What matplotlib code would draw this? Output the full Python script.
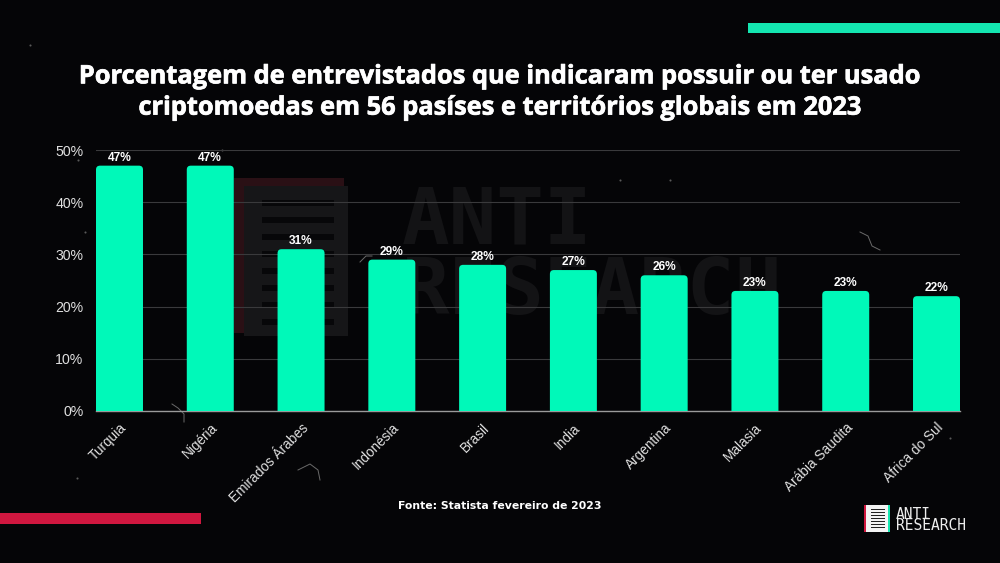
import matplotlib
matplotlib.use("Agg")
import matplotlib.pyplot as plt
import matplotlib.patheffects as pe
from matplotlib.patches import FancyBboxPatch, Rectangle
from matplotlib.transforms import ScaledTranslation

countries = ["Turquia", "Nigéria", "Emirados Árabes", "Indonésia", "Brasil", "India",
             "Argentina", "Malasia", "Arábia Saudita", "Africa do Sul"]
values = [47, 47, 31, 29, 28, 27, 26, 23, 23, 22]
yticks = [0, 10, 20, 30, 40, 50]
title = ("Porcentagem de entrevistados que indicaram possuir ou ter usado\n"
         "criptomoedas em 56 pasíses e territórios globais em 2023")
source = "Fonte: Statista fevereiro de 2023"

BG = "#050507"
TEAL = "#00F9B9"
W, H = 1000, 563

plt.rcParams["font.family"] = ["Liberation Sans", "DejaVu Sans"]
fig = plt.figure(figsize=(10, 5.63), dpi=100, facecolor=BG)

# overlay in pixel coordinates for decoration
bg = fig.add_axes([0, 0, 1, 1], zorder=0)
bg.set_xlim(0, W); bg.set_ylim(H, 0); bg.axis("off")
bg.add_patch(Rectangle((748, 23), 252, 10, color="#14E6B0", lw=0))
bg.add_patch(Rectangle((0, 513), 201, 11, color="#D0173F", lw=0))
# faint watermark
bg.text(402, 222, "ANTI", color="#131315", fontsize=57, fontweight="bold",
        family="DejaVu Sans Mono", va="center", ha="left")
bg.text(402, 292, "RESEARCH", color="#131315", fontsize=57, fontweight="bold",
        family="DejaVu Sans Mono", va="center", ha="left")
bg.add_patch(Rectangle((234, 178), 110, 155, color="#2A1015", lw=0))
bg.add_patch(Rectangle((244, 186), 104, 150, color="#161618", lw=0))
for y in range(200, 325, 17):
    bg.add_patch(Rectangle((262, y), 72, 6, color="#070709", lw=0))
# a few scratches on the paper texture
for xs, ys in [([172, 178, 184, 184], [404, 408, 414, 422]),
               ([298, 310, 318, 320], [470, 464, 470, 480]),
               ([860, 868, 872, 880], [232, 236, 246, 250]),
               ([360, 366, 372], [262, 256, 256])]:
    bg.plot(xs, ys, color="#6A6A6A", lw=0.7)
for px, py in [(78, 160), (85, 232), (222, 150), (950, 438), (77, 478), (620, 180), (670, 180), (30, 45), (500, 310)]:
    bg.plot([px], [py], "o", ms=1.5, color="#5A5A5A", mew=0)
# corner logo
bg.add_patch(Rectangle((866, 505), 22, 27, color="#F4F4F4", lw=0))
bg.add_patch(Rectangle((864, 505), 2, 27, color="#D0173F", lw=0))
bg.add_patch(Rectangle((888, 505), 1.5, 27, color="#14E6B0", lw=0))
for y in range(509, 530, 3):
    bg.add_patch(Rectangle((871, y), 14, 1.4, color="#222222", lw=0))
bg.text(896, 514.5, "ANTI", color="#EDEDED", fontsize=10.5, family="DejaVu Sans Mono", va="center")
bg.text(896, 525.5, "RESEARCH", color="#EDEDED", fontsize=10.5, family="DejaVu Sans Mono", va="center")

t = bg.text(500, 92.5, title, color="white", fontsize=18.3, fontweight="bold",
            family="Open Sans", ha="center", va="center", linespacing=1.33)
t.set_path_effects([pe.withStroke(linewidth=0.5, foreground="white")])
bg.text(500, 506, source, color="white", fontsize=7.8, fontweight="bold",
        family="DejaVu Sans", ha="center", va="center")

# chart axes: 96..960 px wide, y 150..411 px
ax = fig.add_axes([96 / W, 1 - 411 / H, 864 / W, 261 / H], zorder=1)
ax.patch.set_alpha(0)
bw = 47 / 90.8
ax.set_xlim(-bw / 2, len(values) - 1 + bw / 2)
ax.set_ylim(0, 50)
x = list(range(len(values)))

bars = ax.bar(x, values, width=bw, color="none", zorder=3)
ppx = (ax.get_xlim()[1] - ax.get_xlim()[0]) / 864
ppy = 50 / 261
r = 4 * ppx
ry = r * ppy / ppx
for b, v in zip(bars, values):
    x0 = b.get_x()
    w = b.get_width()
    # rounded box reaching below the baseline, so only its top corners show
    ax.add_patch(FancyBboxPatch((x0 + r, -5), w - 2 * r, v + 5 - ry,
                                boxstyle=f"round,pad={r},rounding_size={r}",
                                mutation_aspect=ppy / ppx, fc=TEAL, ec="none", zorder=3,
                                clip_on=True, snap=False))
    ax.text(x0 + w / 2, v + 0.35, f"{v}%", color="white", fontsize=8.6, fontweight="bold",
            ha="center", va="bottom", zorder=4)

ax.set_yticks(yticks)
ax.set_yticklabels([f"{t}%" for t in yticks], color="#E0E0E0", fontsize=10.2)
ax.yaxis.grid(True, color="#3A3A3C", lw=0.8, zorder=1)
ax.set_axisbelow(True)
ax.set_xticks(x)
ax.set_xticklabels(countries, rotation=45, ha="right", rotation_mode="anchor",
                   color="#E0E0E0", fontsize=9.8)
shift = ScaledTranslation(4 / 72, 0, fig.dpi_scale_trans)
for lab in ax.get_xticklabels():
    lab.set_transform(lab.get_transform() + shift)
ax.tick_params(axis="y", length=0, pad=9)
ax.tick_params(axis="x", length=0, pad=7)
for s in ["top", "right", "left"]:
    ax.spines[s].set_visible(False)
ax.spines["bottom"].set_color("#9A9A9A")
ax.spines["bottom"].set_linewidth(1)

fig.savefig("out.png", dpi=100, facecolor=BG)
